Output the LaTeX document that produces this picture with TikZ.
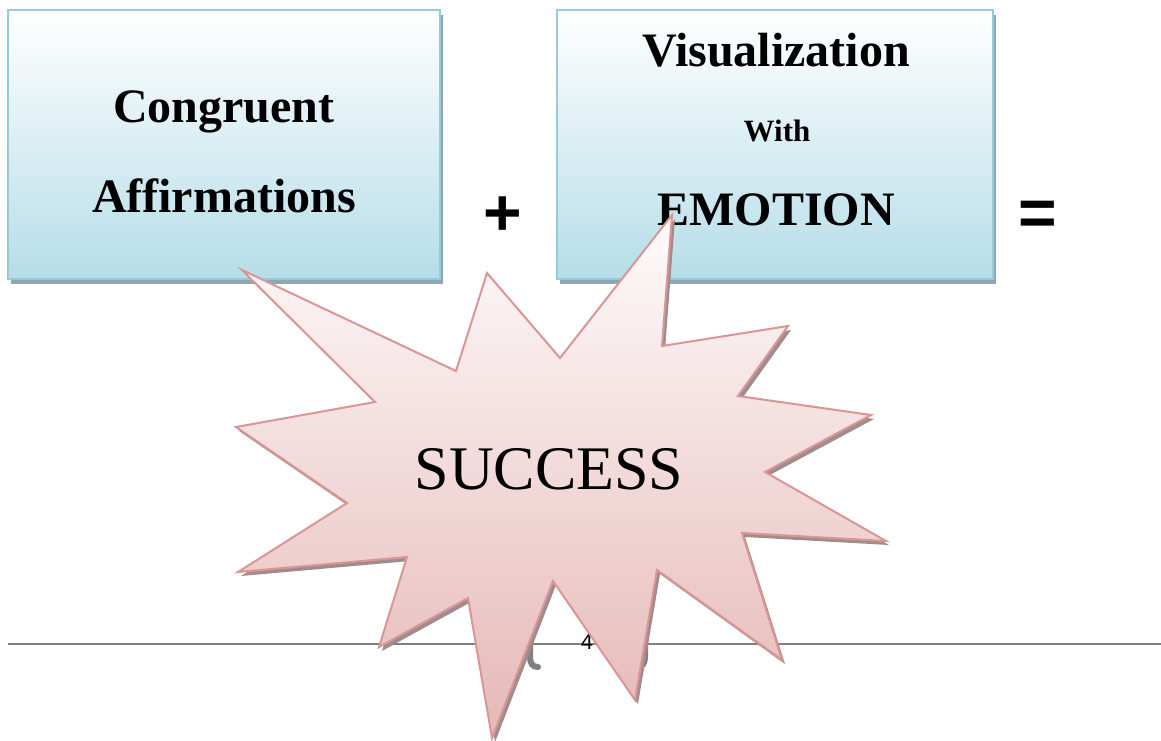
\documentclass[tikz,border=0pt]{standalone}
\usepackage{fontspec}
\setmainfont{Liberation Serif}
\newfontfamily\arialfont{Liberation Sans}
\begin{document}
\begin{tikzpicture}[x=1pt,y=-1pt]
  \definecolor{boxline}{RGB}{147,205,221}
  \definecolor{boxmid}{RGB}{226,240,245}
  \definecolor{boxbottom}{RGB}{182,221,232}
  \definecolor{boxshadow}{RGB}{141,168,178}
  \definecolor{starline}{RGB}{217,150,148}
  \definecolor{startop}{RGB}{254,251,251}
  \definecolor{starbottom}{RGB}{229,184,183}
  \definecolor{starshadow}{RGB}{160,140,140}
  \definecolor{rulegray}{RGB}{128,128,128}

  \tikzset{
    panel/.style={draw=boxline, line width=2pt, top color=white,
      middle color=boxmid, bottom color=boxbottom, minimum height=269pt,
      inner sep=0pt},
    heading/.style={font=\fontsize{48}{50}\selectfont\bfseries,
      anchor=base, inner sep=0pt},
    smallheading/.style={heading, font=\fontsize{31}{33}\selectfont\bfseries},
    opsign/.style={font=\arialfont\bfseries\fontsize{66}{70}\selectfont,
      anchor=base, inner sep=0pt},
    bracketstroke/.style={draw=rulegray, line width=6pt, line cap=round},
  }

  \newcommand\burstoutline{(242,270) -- (456,371) -- (487,273) -- (560,358)
    -- (672,215) -- (662,346) -- (788,326) -- (738,396) -- (871,415)
    -- (765,472) -- (886,541) -- (742,533) -- (782,660) -- (657,570)
    -- (635,700) -- (553,581) -- (492,738) -- (468,598) -- (379,647)
    -- (407,557) -- (238,572) -- (347,503) -- (236,427) -- (375,402) -- cycle}

  \useasboundingbox (0,0) rectangle (1161,740);

  % footer rule with page number
  \coordinate (ruleL) at (8,644);
  \coordinate (ruleR) at (1161,644);
  \draw[rulegray, line width=2.8pt] (ruleL) -- (ruleR);
  \draw[bracketstroke] (530,615) -- (530,657) .. controls (530,664) and (533,667) .. (538,667);
  \draw[bracketstroke] (645,615) -- (645,657) .. controls (645,664) and (642,667) .. (637,667);
  \node[font=\arialfont\fontsize{22}{24}\selectfont, anchor=base, inner sep=0pt]
    (pagenum) at (587,649) {4};

  % panels with drop shadows
  \fill[boxshadow] (11,15) rectangle (443,284);
  \fill[boxshadow] (560,15) rectangle (996,284);
  \node[panel, minimum width=432pt] (left) at (224,144.5) {};
  \node[panel, minimum width=436pt] (right) at (775,144.5) {};

  \node[heading] (congruent) at (224,122) {Congruent};
  \node[heading] (affirm) at (224,212) {Affirmations};
  \node[heading] (visual) at (776,66) {Visualization};
  \node[smallheading] (with) at (777,141) {With};
  \node[heading] (emotion) at (776,225) {EMOTION};

  \node[opsign] (plus) at (503,235) {+};
  \node[opsign] (equals) at (1038,235) {=};

  % starburst
  \fill[starshadow, shift={(3,4)}] \burstoutline;
  \path[draw=starline, line width=2pt, line join=miter, top color=startop,
    bottom color=starbottom] \burstoutline;
  \node[font=\fontsize{62}{64}\selectfont, anchor=base, inner sep=0pt]
    (success) at (549,489) {SUCCESS};
\end{tikzpicture}
\end{document}
